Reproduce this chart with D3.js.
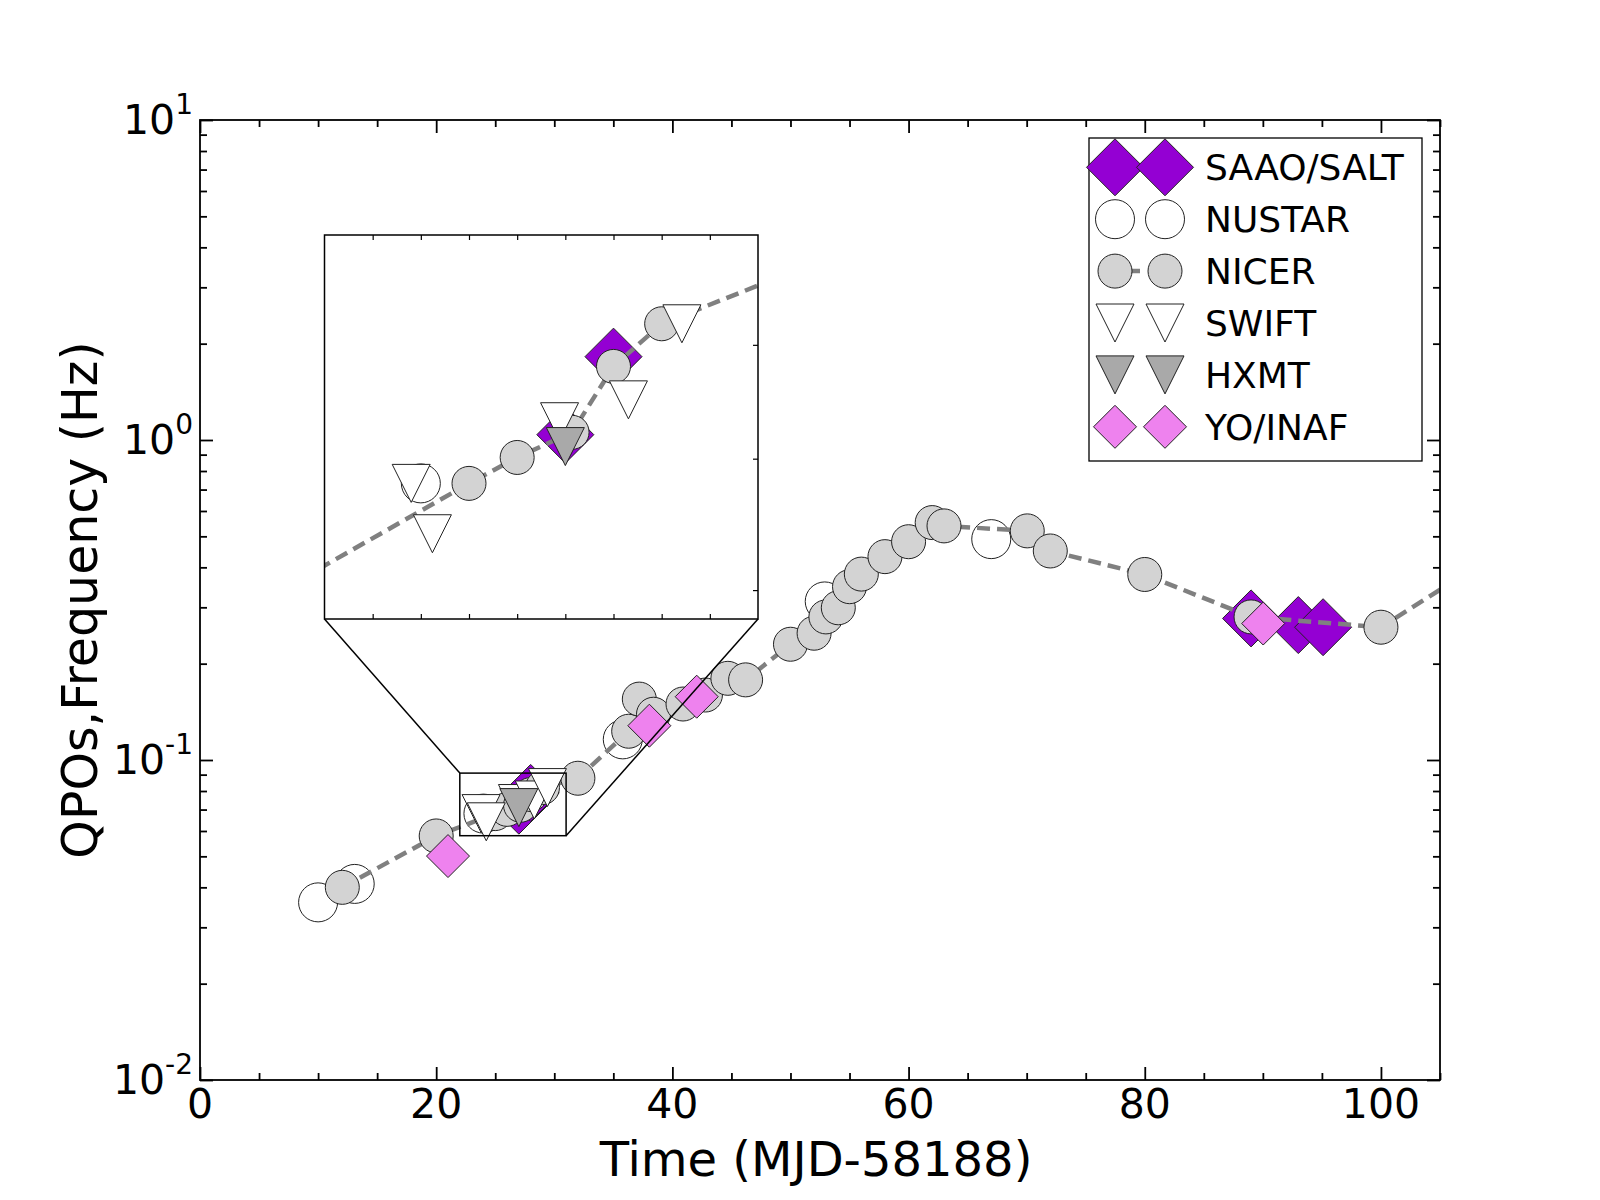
<!DOCTYPE html>
<html>
<head>
<meta charset="utf-8">
<script src="https://cdn.jsdelivr.net/npm/d3@7"></script>
<style>
  body { margin: 0; background: #fff; }
  svg { font-family: "DejaVu Sans", sans-serif; }
</style>
</head>
<body>
<svg id="chart" width="1600" height="1200"></svg>
<script>
// values (time in MJD-58188, QPO frequency in Hz)
const saaoX = [27.0, 28.0, 89.0, 93.0, 95.1];
const saaoY = [0.072, 0.0789, 0.277, 0.264, 0.26];

const nustarX = [10.0, 13.1, 24.0, 35.8, 52.9, 67.0];
const nustarY = [0.0359, 0.041, 0.068, 0.116, 0.313, 0.49];

const nicerX = [12.05, 20.0, 25.0, 26.0, 27.14, 28.0, 29.0, 32.0, 36.3, 37.2, 38.4, 40.9, 42.8, 44.7, 46.2,
  50.0, 52.0, 53.0, 54.05, 55.0, 56.0, 58.0, 60.0, 62.0, 63.0, 70.05, 72.0, 80.0, 89.0, 100.0, 108.0];
const nicerY = [0.040, 0.0579, 0.068, 0.0701, 0.0722, 0.078, 0.082, 0.0877, 0.123, 0.155, 0.139, 0.1496, 0.1596, 0.18, 0.178,
  0.23, 0.249, 0.28, 0.299, 0.348, 0.381, 0.432, 0.481, 0.552, 0.539, 0.52, 0.45, 0.38, 0.28, 0.26, 0.40];

const swiftX = [23.8, 24.24, 26.88, 28.31, 29.42];
const swiftY = [0.068, 0.0641, 0.0731, 0.075, 0.082];

const hxmtX = [27.0];
const hxmtY = [0.071];

const yoX = [21.0, 38.05, 42.06, 90.03];
const yoY = [0.0501, 0.128, 0.1577, 0.267];

const xTicks = [0, 20, 40, 60, 80, 100];
const yExponents = [-2, -1, 0, 1];
const insetXRange = [22, 31];
const insetYRange = [0.058, 0.091];
const insetYTicks = [0.06, 0.07, 0.08];

const svg = d3.select('#chart');

const x = d3.scaleLinear().domain([0, 105]).range([200, 1440]);
const y = d3.scaleLog().domain([0.01, 10]).range([1080, 120]);

// inset axes, zoom on the box drawn in the main panel
const ix = d3.scaleLinear().domain(insetXRange).range([324.5, 758]);
const iy = d3.scaleLog().domain(insetYRange).range([619, 235]);

const shapePath = {
  diamond: r => `M0,${-r}L${r},0L0,${r}L${-r},0Z`,
  circle: r => `M${r},0A${r},${r} 0 1,1 ${-r},0A${r},${r} 0 1,1 ${r},0Z`,
  tri: r => `M${-r},${-r}L${r},${-r}L0,${r}Z`
};

const series = [
  { name: 'SAAO/SALT', xs: saaoX, ys: saaoY, shape: 'diamond', r: 28.5, fill: '#9400d3' },
  { name: 'NUSTAR', xs: nustarX, ys: nustarY, shape: 'circle', r: 19.5, fill: '#ffffff' },
  { name: 'NICER', xs: nicerX, ys: nicerY, shape: 'circle', r: 17, fill: '#d3d3d3', line: true },
  { name: 'SWIFT', xs: swiftX, ys: swiftY, shape: 'tri', r: 19, fill: '#ffffff' },
  { name: 'HXMT', xs: hxmtX, ys: hxmtY, shape: 'tri', r: 19, fill: '#a9a9a9' },
  { name: 'YO/INAF', xs: yoX, ys: yoY, shape: 'diamond', r: 21.5, fill: '#ee82ee' }
];

const dash = { stroke: '#808080', width: 4.5, array: '13,7' };

function plotData(g, sx, sy) {
  series.forEach(s => {
    const pts = d3.zip(s.xs, s.ys);
    if (s.line) {
      g.append('path')
        .datum(pts)
        .attr('d', d3.line().x(d => sx(d[0])).y(d => sy(d[1])))
        .attr('fill', 'none')
        .attr('stroke', dash.stroke)
        .attr('stroke-width', dash.width)
        .attr('stroke-dasharray', dash.array);
    }
    g.selectAll(null)
      .data(pts)
      .join('path')
      .attr('transform', d => `translate(${sx(d[0])},${sy(d[1])})`)
      .attr('d', shapePath[s.shape](s.r))
      .attr('fill', s.fill)
      .attr('stroke', '#222')
      .attr('stroke-width', 1);
  });
}

const defs = svg.append('defs');
defs.append('clipPath').attr('id', 'clipMain')
  .append('rect').attr('x', 200).attr('y', 120).attr('width', 1240).attr('height', 960);
defs.append('clipPath').attr('id', 'clipInset')
  .append('rect').attr('x', ix.range()[0]).attr('y', iy.range()[1])
  .attr('width', ix.range()[1] - ix.range()[0]).attr('height', iy.range()[0] - iy.range()[1]);

// main panel data
const main = svg.append('g').attr('clip-path', 'url(#clipMain)');
plotData(main, x, y);

// axes, ticks pointing inwards on all four sides
const minorX = d3.range(0, 106, 5).filter(v => v % 20 !== 0);
const minorY = [];
yExponents.slice(0, -1).forEach(e => { for (let k = 2; k <= 9; k++) minorY.push(k * Math.pow(10, e)); });
const majorY = yExponents.map(e => Math.pow(10, e));

function tickAxis(axis, scale, values, size, tx, ty) {
  const g = svg.append('g')
    .attr('transform', `translate(${tx},${ty})`)
    .call(axis(scale).tickValues(values).tickSize(-size).tickSizeOuter(0).tickFormat(''));
  g.select('.domain').remove();
  g.selectAll('line').attr('stroke', '#000').attr('stroke-width', 1.8);
  return g;
}

tickAxis(d3.axisBottom, x, xTicks, 13, 0, 1080);
tickAxis(d3.axisBottom, x, minorX, 7, 0, 1080);
tickAxis(d3.axisTop, x, xTicks, 13, 0, 120);
tickAxis(d3.axisTop, x, minorX, 7, 0, 120);
tickAxis(d3.axisLeft, y, majorY, 13, 200, 0);
tickAxis(d3.axisLeft, y, minorY, 7, 200, 0);
tickAxis(d3.axisRight, y, majorY, 13, 1440, 0);
tickAxis(d3.axisRight, y, minorY, 7, 1440, 0);

svg.append('rect')
  .attr('x', 200).attr('y', 120).attr('width', 1240).attr('height', 960)
  .attr('fill', 'none').attr('stroke', '#000').attr('stroke-width', 1.8);

// tick labels
svg.append('g').selectAll('text')
  .data(xTicks)
  .join('text')
  .attr('x', d => x(d))
  .attr('y', 1118)
  .attr('text-anchor', 'middle')
  .attr('font-size', 41)
  .text(d => d);

const yLab = svg.append('g').selectAll('text')
  .data(yExponents)
  .join('text')
  .attr('x', 193)
  .attr('y', d => y(Math.pow(10, d)) + 14)
  .attr('text-anchor', 'end')
  .attr('font-size', 41);
yLab.append('tspan').text('10');
yLab.append('tspan').attr('dy', -20).attr('font-size', 28).text(d => d);

// axis titles
svg.append('text')
  .attr('x', 816).attr('y', 1176)
  .attr('text-anchor', 'middle')
  .attr('font-size', 48)
  .text('Time (MJD-58188)');
svg.append('text')
  .attr('transform', 'translate(97,600) rotate(-90)')
  .attr('text-anchor', 'middle')
  .attr('font-size', 49)
  .text('QPOs,Frequency (Hz)');

// zoom box and connector lines
const bx0 = x(insetXRange[0]), bx1 = x(insetXRange[1]);
const by0 = y(insetYRange[1]), by1 = y(insetYRange[0]);
svg.append('rect')
  .attr('x', bx0).attr('y', by0).attr('width', bx1 - bx0).attr('height', by1 - by0)
  .attr('fill', 'none').attr('stroke', '#000').attr('stroke-width', 1.5);
svg.append('line')
  .attr('x1', bx0).attr('y1', by0)
  .attr('x2', ix(insetXRange[0])).attr('y2', iy(insetYRange[0]))
  .attr('stroke', '#000').attr('stroke-width', 1.5);
svg.append('line')
  .attr('x1', bx1).attr('y1', by1)
  .attr('x2', ix(insetXRange[1])).attr('y2', iy(insetYRange[0]))
  .attr('stroke', '#000').attr('stroke-width', 1.5);

// inset panel
const ixr = ix.range(), iyr = iy.range();
svg.append('rect')
  .attr('x', ixr[0]).attr('y', iyr[1]).attr('width', ixr[1] - ixr[0]).attr('height', iyr[0] - iyr[1])
  .attr('fill', '#fff');
const inset = svg.append('g').attr('clip-path', 'url(#clipInset)');
plotData(inset, ix, iy);

const insetXTicks = d3.range(insetXRange[0] + 1, insetXRange[1]);
[[d3.axisBottom, iyr[0]], [d3.axisTop, iyr[1]]].forEach(([ax, ty]) => {
  const g = svg.append('g').attr('transform', `translate(0,${ty})`)
    .call(ax(ix).tickValues(insetXTicks).tickSize(-5).tickSizeOuter(0).tickFormat(''));
  g.select('.domain').remove();
  g.selectAll('line').attr('stroke', '#000').attr('stroke-width', 1.2);
});
{
  const g = svg.append('g').attr('transform', `translate(${ixr[1]},0)`)
    .call(d3.axisRight(iy).tickValues(insetYTicks).tickSize(-5).tickSizeOuter(0).tickFormat(''));
  g.select('.domain').remove();
  g.selectAll('line').attr('stroke', '#000').attr('stroke-width', 1.2);
}
svg.append('rect')
  .attr('x', ixr[0]).attr('y', iyr[1]).attr('width', ixr[1] - ixr[0]).attr('height', iyr[0] - iyr[1])
  .attr('fill', 'none').attr('stroke', '#000').attr('stroke-width', 1.5);

// legend
const legend = svg.append('g');
legend.append('rect')
  .attr('x', 1089).attr('y', 138).attr('width', 333).attr('height', 323)
  .attr('fill', '#fff').attr('stroke', '#000').attr('stroke-width', 1.3);

const rowY = i => 167.3 + i * 51.9;
const markX = [1115, 1165];
series.forEach((s, i) => {
  const row = legend.append('g').attr('transform', `translate(0,${rowY(i)})`);
  if (s.line) {
    row.append('line')
      .attr('x1', markX[0]).attr('x2', markX[1]).attr('y1', 0).attr('y2', 0)
      .attr('stroke', dash.stroke).attr('stroke-width', dash.width)
      .attr('stroke-dasharray', '14,8').attr('stroke-dashoffset', 11);
  }
  markX.forEach(mx => {
    row.append('path')
      .attr('transform', `translate(${mx},0)`)
      .attr('d', shapePath[s.shape](s.r))
      .attr('fill', s.fill)
      .attr('stroke', '#222')
      .attr('stroke-width', 1);
  });
  row.append('text')
    .attr('x', 1205).attr('y', 12.9)
    .attr('font-size', 36)
    .text(s.name);
});
</script>
</body>
</html>
